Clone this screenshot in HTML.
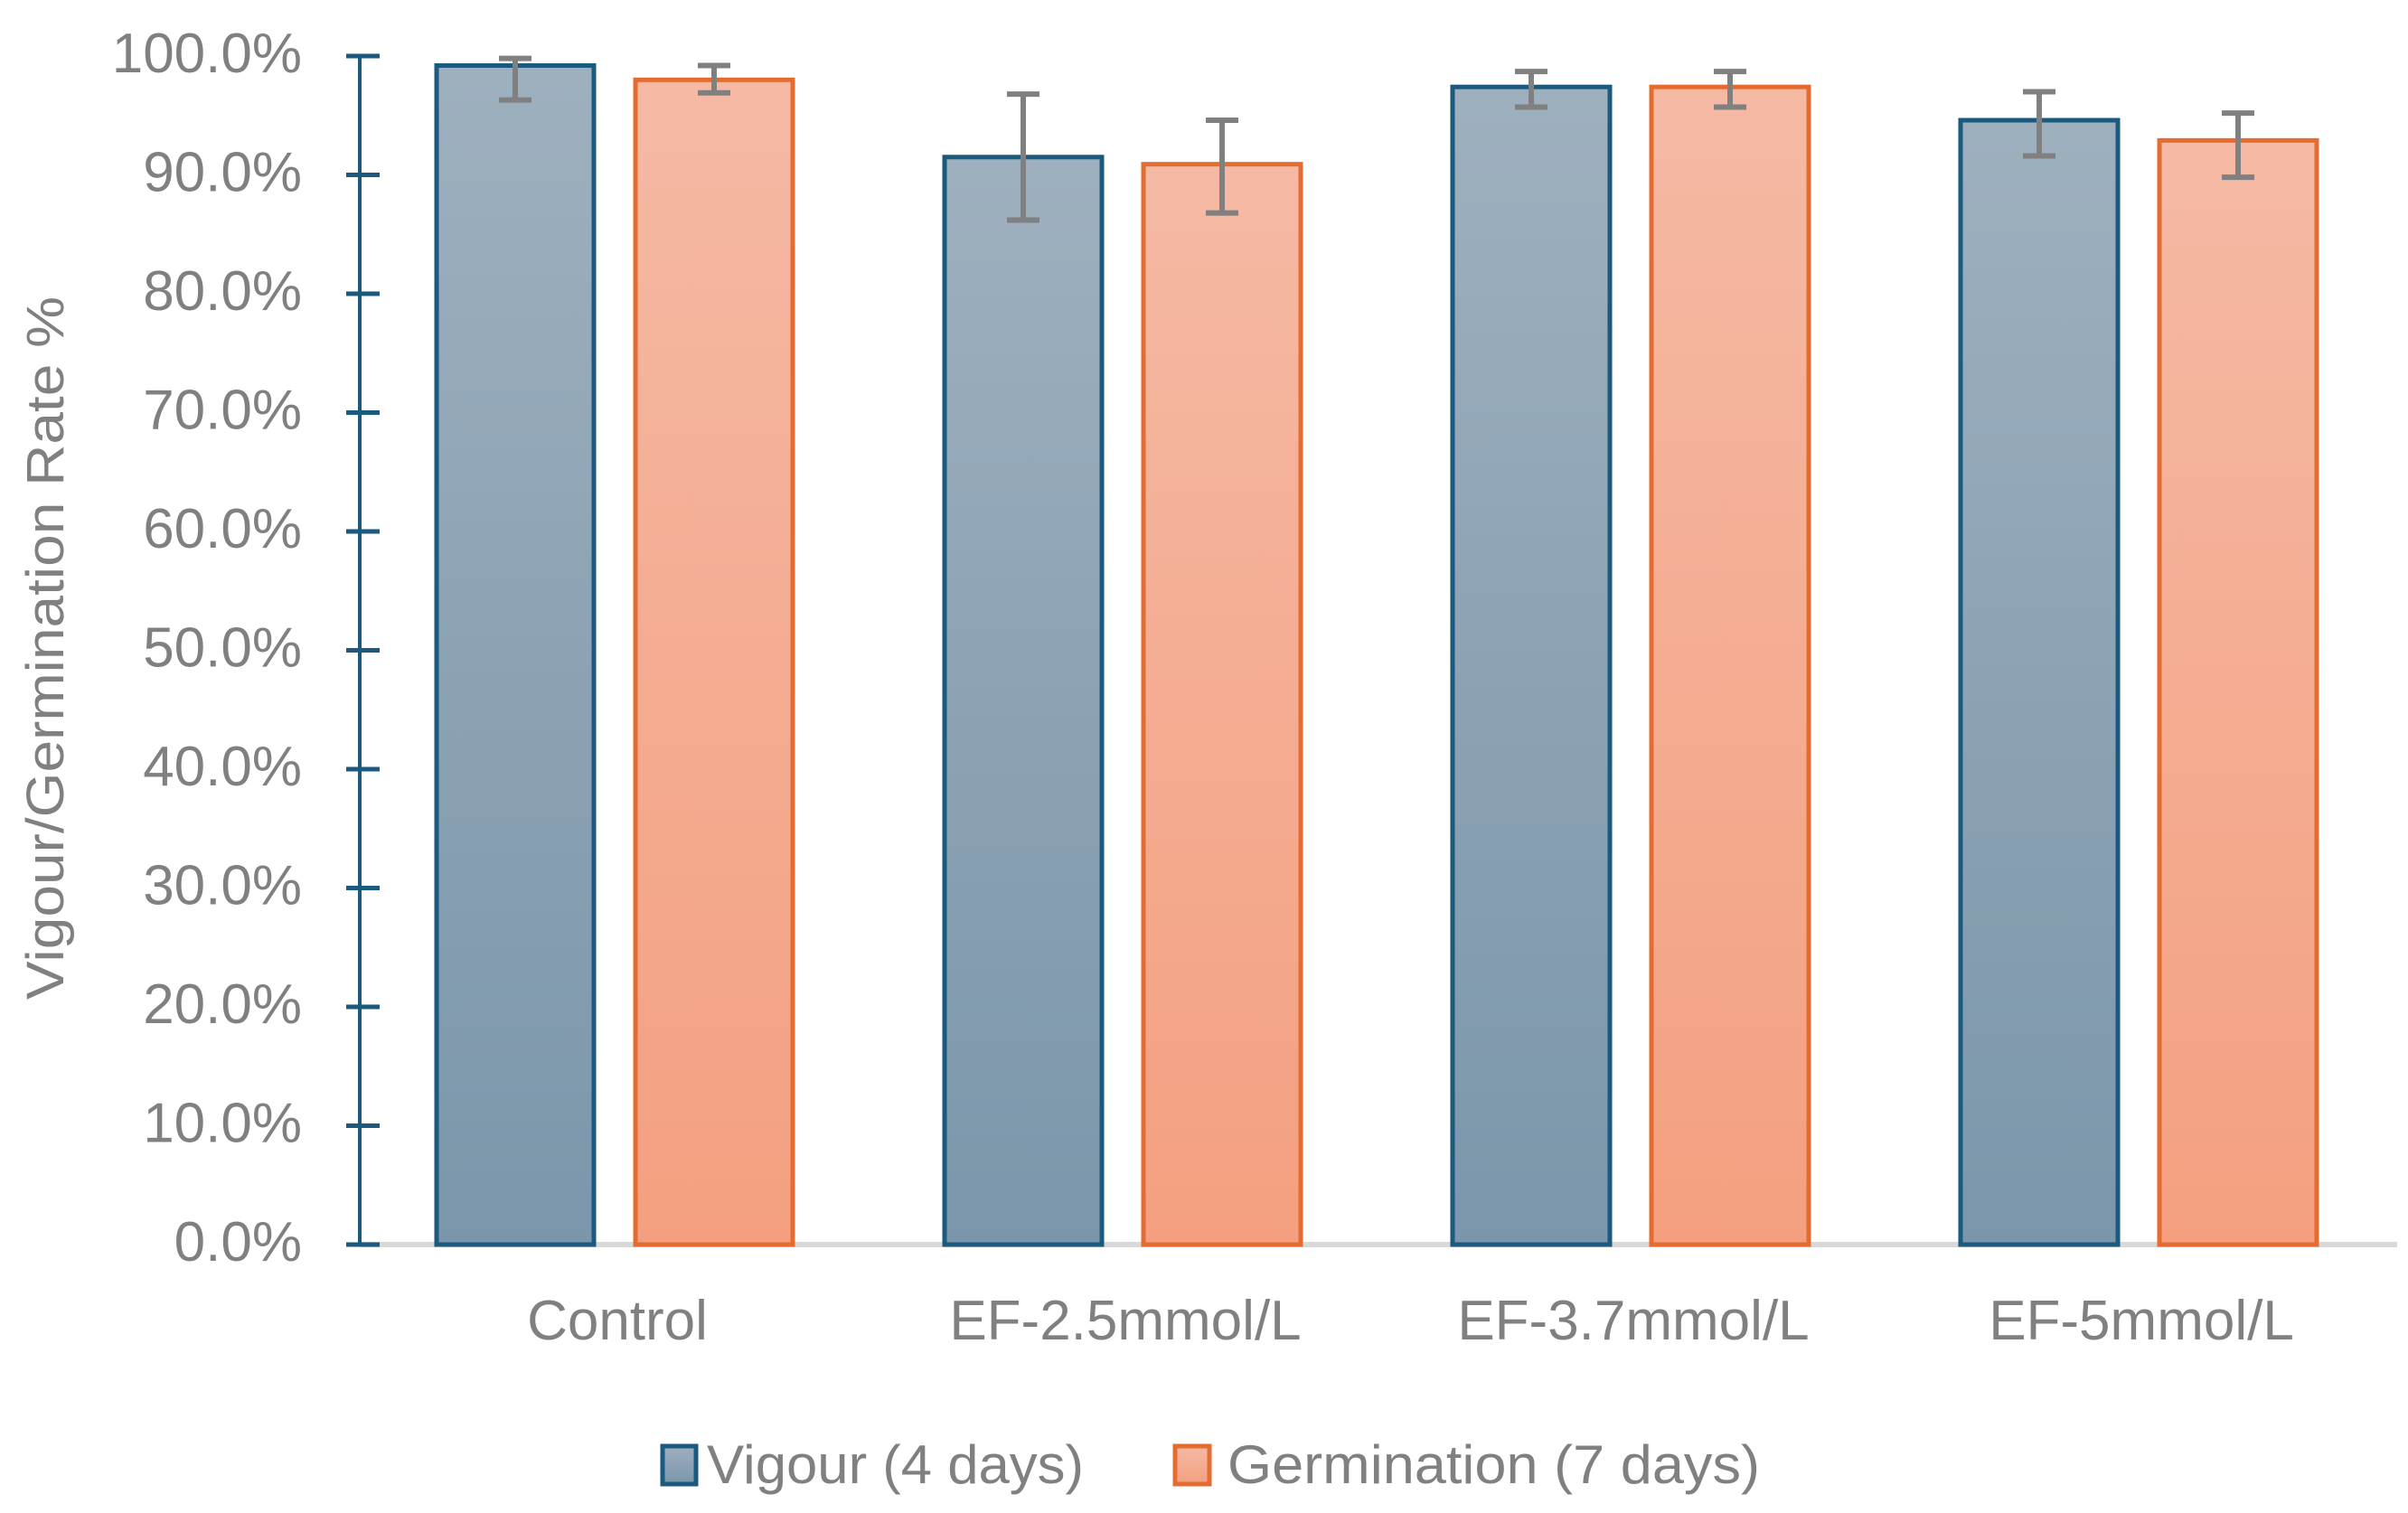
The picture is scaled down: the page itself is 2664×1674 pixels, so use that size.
<!DOCTYPE html>
<html><head><meta charset="utf-8"><style>
html,body{margin:0;padding:0;background:#fff;}
svg{display:block;font-family:"Liberation Sans",sans-serif;}
</style></head><body>
<svg id="chart" width="2664" height="1674" viewBox="0 0 2664 1674" xmlns="http://www.w3.org/2000/svg">
<defs>
<linearGradient id="gv" x1="0" y1="0" x2="0" y2="1"><stop offset="0" stop-color="#9eb0be"/><stop offset="1" stop-color="#7b96ab"/></linearGradient>
<linearGradient id="gg" x1="0" y1="0" x2="0" y2="1"><stop offset="0" stop-color="#f5b9a4"/><stop offset="1" stop-color="#f4a080"/></linearGradient>
</defs>
<g id="plot"></g>
<text x="0" y="0" transform="translate(70,717) rotate(-90)" text-anchor="middle" font-size="58" fill="#808080" textLength="778" lengthAdjust="spacingAndGlyphs">Vigour/Germination Rate %</text>
<g>
<rect x="733" y="1600" width="37" height="42" fill="url(#gv)" stroke="#1a5a7e" stroke-width="5"/>
<text x="782" y="1641" font-size="60" fill="#808080" textLength="417" lengthAdjust="spacingAndGlyphs">Vigour (4 days)</text>
<rect x="1300" y="1600" width="38" height="42" fill="url(#gg)" stroke="#e46c30" stroke-width="5"/>
<text x="1358" y="1641" font-size="60" fill="#808080" textLength="589" lengthAdjust="spacingAndGlyphs">Germination (7 days)</text>
</g>
</svg>
<script>
const categories = ["Control", "EF-2.5mmol/L", "EF-3.7mmol/L", "EF-5mmol/L"];
const vigour = [99.2, 91.5, 97.4, 94.6];
const vigourHigh = [99.8, 96.8, 98.7, 97.0];
const vigourLow = [96.3, 86.2, 95.7, 91.6];
const germination = [98.0, 90.9, 97.4, 92.9];
const germinationHigh = [99.2, 94.6, 98.7, 95.2];
const germinationLow = [96.9, 86.8, 95.7, 89.8];
const yTicks = [0, 10, 20, 30, 40, 50, 60, 70, 80, 90, 100];

const NS = "http://www.w3.org/2000/svg";
const g = document.getElementById("plot");
const X0 = 398, X1 = 2646, Y0 = 1377, Y100 = 62;
const catW = (X1 - X0) / categories.length;
const y = v => Y0 - (v / 100) * (Y0 - Y100);
const cx = i => X0 + catW * (i + 0.5);
function mk(tag, attrs) { const e = document.createElementNS(NS, tag); for (const k in attrs) e.setAttribute(k, attrs[k]); g.appendChild(e); return e; }

let bl = mk("line", {x1: X0, x2: 2652, y1: Y0, y2: Y0, stroke: "#d9d9d9", "stroke-width": 6});



const BW = 174;
function bar(val, hi, lo, left, fill, stroke, name) {
  const r = mk("rect", {x: left, y: y(val), width: BW, height: Y0 - y(val), fill: fill, stroke: stroke, "stroke-width": 5});
  
  
  const c = left + BW / 2;
  const e = mk("path", {d: `M${c},${y(hi)}V${y(lo)}M${c-18},${y(hi)}H${c+18}M${c-18},${y(lo)}H${c+18}`, stroke: "#808080", "stroke-width": 6, fill: "none"});
  
  
}
categories.forEach((c, i) => {
  bar(vigour[i], vigourHigh[i], vigourLow[i], cx(i) - 196, "url(#gv)", "#1a5a7e", "bar-vigour-" + i);
  bar(germination[i], germinationHigh[i], germinationLow[i], cx(i) + 24, "url(#gg)", "#e46c30", "bar-germination-" + i);
  const t = mk("text", {x: cx(i) + 4, y: 1482, "text-anchor": "middle", "font-size": 62, fill: "#808080"});
  t.textContent = c;
  
  
});

let ax = mk("line", {x1: X0, x2: X0, y1: Y100, y2: Y0, stroke: "#1a5a7e", "stroke-width": 4});


yTicks.forEach(v => {
  const tk = mk("line", {x1: 383, x2: 420, y1: y(v), y2: y(v), stroke: "#1a5a7e", "stroke-width": 5});
  
  
  const t = mk("text", {x: 334, y: y(v) + 18, "text-anchor": "end", "font-size": 62, fill: "#808080"});
  t.textContent = v.toFixed(1) + "%";
  
  
});
</script>
</body></html>
